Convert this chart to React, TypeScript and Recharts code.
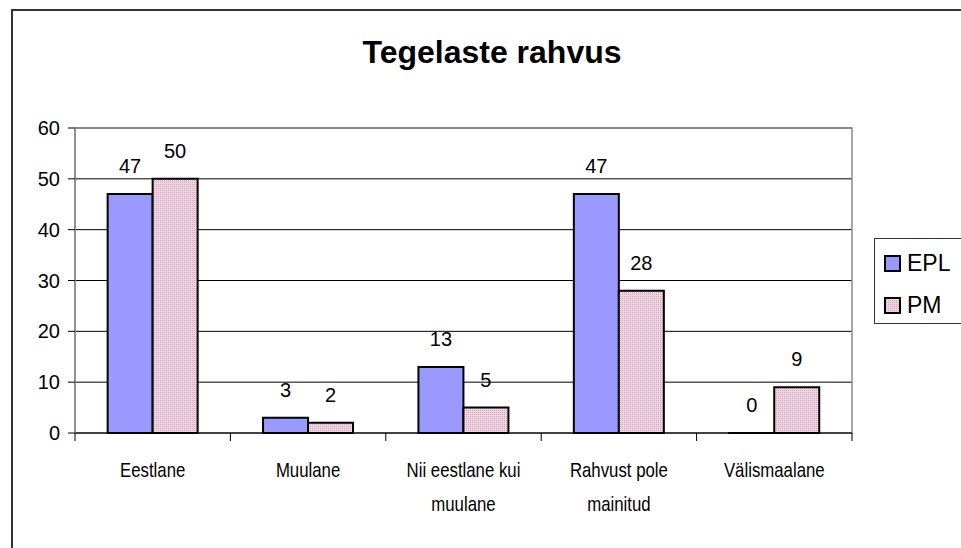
import React from "react";
import {
  BarChart,
  Bar,
  XAxis,
  YAxis,
  CartesianGrid,
  LabelList,
  Legend,
  ReferenceArea,
} from "recharts";

const categories = [
  "Eestlane",
  "Muulane",
  "Nii eestlane kui muulane",
  "Rahvust pole mainitud",
  "Välismaalane",
];
const categoryLines = [
  ["Eestlane"],
  ["Muulane"],
  ["Nii eestlane kui", "muulane"],
  ["Rahvust pole", "mainitud"],
  ["Välismaalane"],
];
const eplValues = [47, 3, 13, 47, 0];
const pmValues = [50, 2, 5, 28, 9];
const yTicks = [0, 10, 20, 30, 40, 50, 60];
const seriesNames = ["EPL", "PM"];
const titleText = "Tegelaste rahvus";

const data = categories.map((c, i) => ({
  name: c,
  EPL: eplValues[i],
  PM: pmValues[i],
}));

const W = 961;
const H = 548;
const PLOT_L = 75;
const PLOT_R = 852;
const PLOT_T = 128;
const PLOT_B = 433;
const Y_AXIS_W = 40;
const HALF_BAND = (PLOT_R - PLOT_L) / categories.length / 2;

const EPL_COLOR = "#9999FF";
const PM_BASE = "#EFD4E2";
const PM_DOT = "#D4A8BF";
const FONT = "'Liberation Sans', Arial, sans-serif";

const XTick = (props: any) => {
  const { x, y, payload, index } = props;
  const half = payload && payload.offset ? payload.offset : HALF_BAND;
  const lines = categoryLines[index] || [String(payload.value)];
  const axisY = y - 8;
  return (
    <g>
      <line x1={x - half} x2={x - half} y1={axisY} y2={axisY + 8} stroke="#000" strokeWidth={1} />
      {index === categories.length - 1 && (
        <line x1={x + half} x2={x + half} y1={axisY} y2={axisY + 8} stroke="#000" strokeWidth={1} />
      )}
      <g transform={`translate(${x},0) scale(0.84,1) translate(${-x},0)`}>
        <text x={x} y={y + 36} textAnchor="middle" fontFamily={FONT} fontSize={20} fill="#000">
          {lines.map((l: string, i: number) => (
            <tspan key={i} x={x} dy={i === 0 ? 0 : 34}>
              {l}
            </tspan>
          ))}
        </text>
      </g>
    </g>
  );
};

const LegendContent = () => {
  const fills = [EPL_COLOR, "url(#pmPatternLegend)"];
  return (
    <div
      style={{
        width: 95,
        height: 86,
        border: "1px solid #333",
        boxSizing: "border-box",
        background: "#fff",
        position: "relative",
      }}
    >
      <svg width={95} height={86} style={{ position: "absolute", left: -1, top: -1 }}>
        <defs>
          <pattern id="pmPatternLegend" width="2" height="2" patternUnits="userSpaceOnUse">
            <rect width="2" height="2" fill={PM_BASE} />
            <rect width="1" height="1" fill={PM_DOT} />
          </pattern>
        </defs>
        {seriesNames.map((n, i) => (
          <g key={n}>
            <rect
              x={11}
              y={18 + i * 42}
              width={15}
              height={15}
              fill={fills[i]}
              stroke="#000"
              strokeWidth={2}
            />
            <text x={33} y={33 + i * 42} fontFamily={FONT} fontSize={23} fill="#000">
              {n}
            </text>
          </g>
        ))}
      </svg>
    </div>
  );
};

export default function App() {
  return (
    <div
      style={{
        position: "absolute",
        left: 0,
        top: 0,
        width: W,
        height: H,
        overflow: "hidden",
        background: "#fff",
      }}
    >
      <div
        style={{
          position: "absolute",
          left: 11,
          top: 9,
          width: 1000,
          height: 600,
          border: "2px solid #333",
          boxSizing: "border-box",
        }}
      />
      <div
        style={{
          position: "absolute",
          left: 0,
          top: 36,
          width: 984,
          textAlign: "center",
          fontFamily: FONT,
          fontWeight: "bold",
          fontSize: 32,
          lineHeight: "32px",
          color: "#000",
        }}
      >
        {titleText}
      </div>
      <div style={{ position: "absolute", left: 0, top: 0 }}>
        <BarChart
          width={W}
          height={H}
          data={data}
          margin={{
            top: PLOT_T,
            right: W - PLOT_R,
            bottom: 0,
            left: PLOT_L - Y_AXIS_W,
          }}
          barCategoryGap="21%"
          barGap={0}
        >
          <defs>
            <pattern id="pmPattern" width="2" height="2" patternUnits="userSpaceOnUse">
              <rect width="2" height="2" fill={PM_BASE} />
              <rect width="1" height="1" fill={PM_DOT} />
            </pattern>
          </defs>
          <CartesianGrid horizontal vertical={false} stroke="#000" strokeWidth={1} />
          <ReferenceArea y1={0} y2={60} fill="none" stroke="#8a8a8a" strokeWidth={1.5} />
          <XAxis
            dataKey="name"
            axisLine={{ stroke: "#000", strokeWidth: 1 }}
            tickLine={false}
            tickSize={8}
            tickMargin={0}
            interval={0}
            tick={<XTick />}
            height={H - PLOT_B}
          />
          <YAxis
            width={Y_AXIS_W}
            domain={[0, 60]}
            ticks={yTicks}
            interval={0}
            axisLine={{ stroke: "#8a8a8a", strokeWidth: 1.5 }}
            tickLine={{ stroke: "#000" }}
            tickSize={7}
            tickMargin={8}
            tick={{ fontFamily: FONT, fontSize: 20, fill: "#000" }}
          />
          <Legend
            layout="vertical"
            align="center"
            verticalAlign="middle"
            content={<LegendContent />}
            wrapperStyle={{ left: 874, top: 238, width: 95, height: 86 }}
          />
          <Bar
            dataKey="EPL"
            fill={EPL_COLOR}
            stroke="#000"
            strokeWidth={2}
            minPointSize={0.01}
            isAnimationActive={false}
          >
            <LabelList
              dataKey="EPL"
              position="top"
              offset={21}
              style={{ fontFamily: FONT, fontSize: 20, fill: "#000" }}
            />
          </Bar>
          <Bar dataKey="PM" fill="url(#pmPattern)" stroke="#000" strokeWidth={2} isAnimationActive={false}>
            <LabelList
              dataKey="PM"
              position="top"
              offset={21}
              style={{ fontFamily: FONT, fontSize: 20, fill: "#000" }}
            />
          </Bar>
        </BarChart>
      </div>
    </div>
  );
}
